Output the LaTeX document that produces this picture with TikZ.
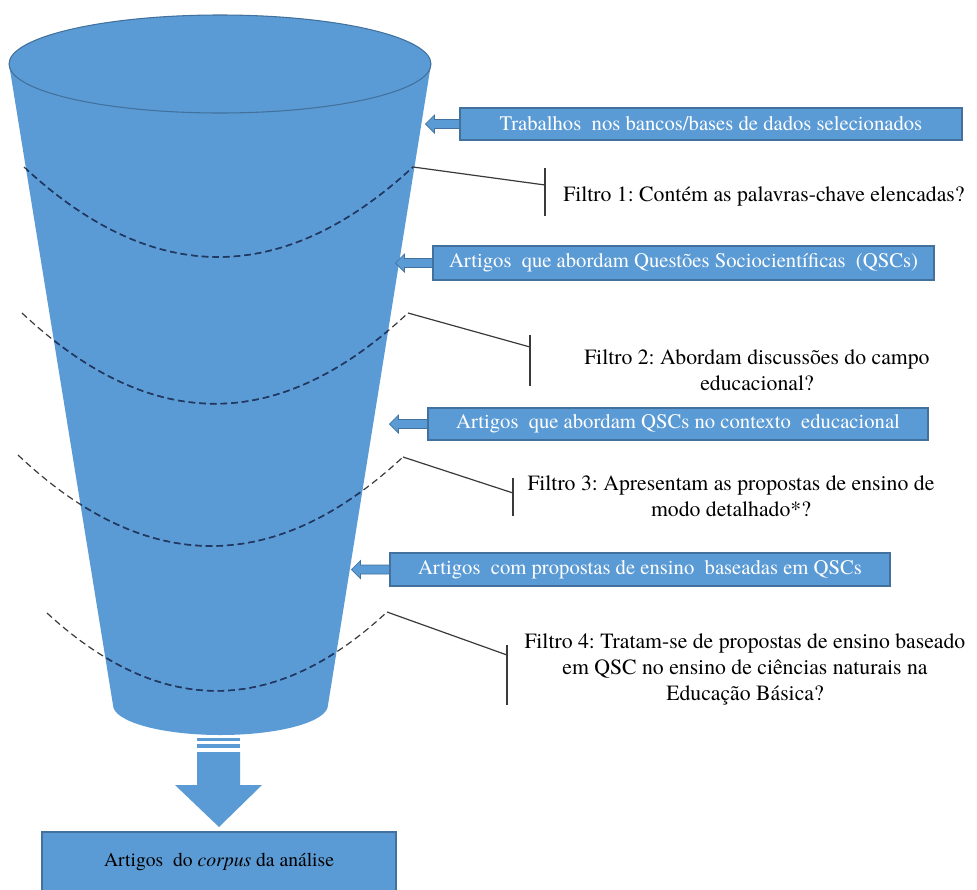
\documentclass[tikz,border=0pt]{standalone}
\usepackage{fontspec}
\setmainfont{texgyretermes-regular.otf}[ItalicFont=texgyretermes-italic.otf, BoldFont=texgyretermes-bold.otf]
\frenchspacing
\definecolor{fblue}{HTML}{5B9BD5}
\definecolor{fedge}{HTML}{41719C}
\definecolor{navy}{HTML}{1F3864}
\definecolor{lgray}{HTML}{3A3A3A}
\newcommand{\blockarr}[2]{\path[blockarrow] (#1.west) ++(0,-4.5) -- ++({-(#2-9)},0) -- ++(0,-4.5) -- ++(-9,9) -- ++(9,9) -- ++(0,-4.5) -- ++({#2-9},0) -- cycle;}
\newcommand{\funnelpath}{(9,64) -- (113,705) arc[start angle=180, end angle=0, x radius=107.5, y radius=30] -- (431,64) -- cycle}
\newcommand{\curveA}{(c1l) .. controls (153,287) and (283,287) .. (c1r)}
\newcommand{\curveB}{(c2l) .. controls (151,434) and (279,434) .. (c2r)}
\newcommand{\curveC}{(c3l) .. controls (146,576) and (275,576) .. (c3r)}
\newcommand{\curveD}{(c4l) .. controls (160,717) and (274,717) .. (c4r)}
\begin{document}
\begin{tikzpicture}[x=0.75pt,y=-0.75pt,
  box/.style={draw=fedge, line width=0.8pt, fill=fblue, text=white, font=\fontsize{15.5}{17}\selectfont, inner sep=0pt},
  filt/.style={align=center, text=black, font=\fontsize{16.3}{19.5}\selectfont, inner sep=0pt},
  blockarrow/.style={fill=fblue, draw=fedge, line width=0.5pt},
  fline/.style={draw=lgray, line width=0.9pt},
  dashout/.style={draw=lgray, line width=0.9pt, dash pattern=on 5pt off 3pt},
  dashin/.style={draw=navy, line width=1.2pt, dash pattern=on 5pt off 3pt}]
\useasboundingbox (0,0) rectangle (977,889);

% funnel
\fill[fblue] \funnelpath;
\draw[fill=fblue, draw=fedge, line width=0.8pt] (220,64) ellipse [x radius=211, y radius=49];

% curve end points
\coordinate (c1l) at (24,167);  \coordinate (c1r) at (413,167);
\coordinate (c2l) at (22,313);  \coordinate (c2r) at (408,313);
\coordinate (c3l) at (18,455);  \coordinate (c3r) at (403,457);
\coordinate (c4l) at (47,613);  \coordinate (c4r) at (387,612);

% dashed filter curves
\draw[dashout] \curveA; \draw[dashout] \curveB; \draw[dashout] \curveC; \draw[dashout] \curveD;
\begin{scope}
  \clip \funnelpath;
  \draw[dashin] \curveA; \draw[dashin] \curveB; \draw[dashin] \curveC; \draw[dashin] \curveD;
\end{scope}

% boxes
\node[box, minimum width=502*0.75pt, minimum height=32*0.75pt] (b1) at (711,124) {Trabalhos\ \ nos bancos/bases de dados selecionados};
\node[box, minimum width=501*0.75pt, minimum height=34*0.75pt] (b2) at (683.5,263) {Artigos\ \ que abordam Questões Sociocientíficas\ \ (QSCs)};
\node[box, minimum width=500*0.75pt, minimum height=32*0.75pt] (b3) at (678,424) {Artigos\ \ que abordam QSCs no contexto\ \ educacional};
\node[box, minimum width=500*0.75pt, minimum height=33*0.75pt] (b4) at (640,569.5) {Artigos\ \ com propostas de ensino\ \ baseadas em QSCs};

\blockarr{b1}{34}
\blockarr{b2}{37}
\blockarr{b3}{38}
\blockarr{b4}{38}

% filter texts
\node[filt] (f1) at (764,196) {Filtro 1: Contém as palavras-chave elencadas?};
\node[filt] (f2) at (757,370) {Filtro 2: Abordam discussões do campo\\educacional?};
\node[filt] (f3) at (731,496) {Filtro 3: Apresentam as propostas de ensino de\\modo detalhado*?};
\node[filt] (f4) at (745,669) {Filtro 4: Tratam-se de propostas de ensino baseado\\em QSC no ensino de ciências naturais na\\Educação Básica?};

% filter pointer lines
\coordinate (p1) at (545,185); \coordinate (p1t) at (545,168); \coordinate (p1b) at (545,216);
\coordinate (p2) at (530,347); \coordinate (p2t) at (530,335); \coordinate (p2b) at (530,386);
\coordinate (p3) at (513,493); \coordinate (p3t) at (513,478); \coordinate (p3b) at (513,516);
\coordinate (p4) at (507,655); \coordinate (p4t) at (507,645); \coordinate (p4b) at (507,705);
\draw[fline] (c1r) -- (p1); \draw[fline] (p1t) -- (p1b);
\draw[fline] (c2r) -- (p2); \draw[fline] (p2t) -- (p2b);
\draw[fline] (c3r) -- (p3); \draw[fline] (p3t) -- (p3b);
\draw[fline] (c4r) -- (p4); \draw[fline] (p4t) -- (p4b);

% bottom arrow
\coordinate (fb) at (219,738);
\fill[fblue] (197,738) rectangle (240,741);
\fill[fblue] (197,744) rectangle (240,748);
\fill[fblue] (197,752) -- (240,752) -- (240,785) -- (262,785) -- (219,827) -- (175,785) -- (197,785) -- cycle;

% bottom box
\node[box, text=black, font=\fontsize{14.7}{16}\selectfont, minimum width=354*0.75pt, minimum height=60*0.75pt] (bot) at (219,862) {Artigos\ \ do \textit{corpus} da análise};
\end{tikzpicture}
\end{document}
